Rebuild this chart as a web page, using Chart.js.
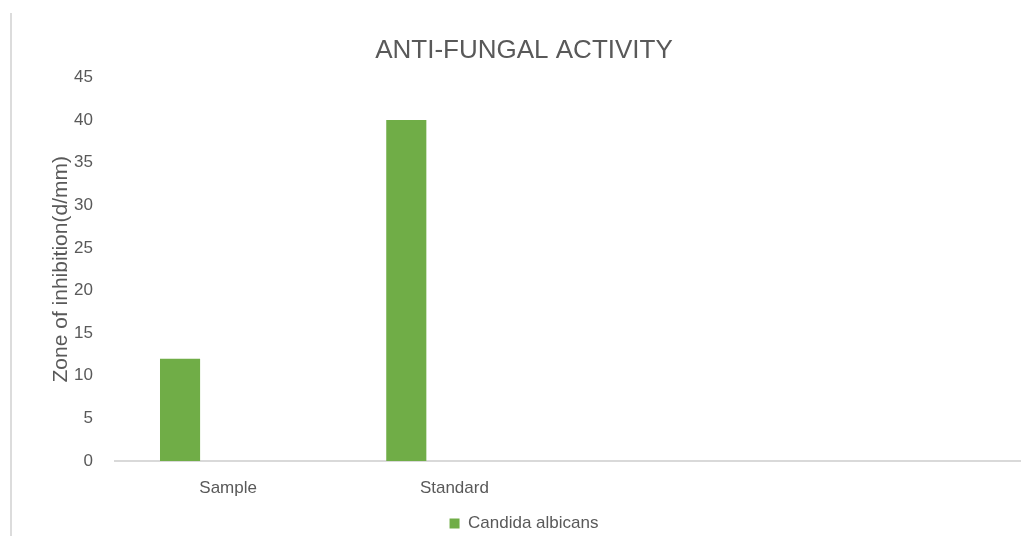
<!DOCTYPE html>
<html>
<head>
<meta charset="utf-8">
<script src="https://cdn.jsdelivr.net/npm/chart.js@4.4.1/dist/chart.umd.min.js"></script>
<style>
  html, body { margin: 0; padding: 0; background: #fff; overflow: hidden; }
  #wrap { position: relative; width: 1032px; height: 542px; }
  #edge { position: absolute; left: 10px; top: 13px; width: 2px; height: 530px; background: #dcdcdc; }
  #mychart { position: absolute; left: 0; top: 0; }
</style>
</head>
<body>
<div id="wrap">
  <div id="edge"></div>
  <canvas id="mychart" width="1032" height="542"></canvas>
</div>
<script>
// data
var categories = ['Sample', 'Standard', '', ''];
var candidaAlbicans = [12, 40, null, null];
var emptySeries = [null, null, null, null];
var yTicks = [0, 5, 10, 15, 20, 25, 30, 35, 40, 45];

var hijau = '#70ad47';
var abu = '#595959';
var garis = '#d9d9d9';
var huruf = "'Liberation Sans', Arial, sans-serif";

var ctx = document.getElementById('mychart').getContext('2d');
var myChart = new Chart(ctx, {
  type: 'bar',
  data: {
    labels: categories,
    datasets: [{
      label: 'Candida albicans',
      data: candidaAlbicans,
      backgroundColor: hijau,
      borderWidth: 0
    }, {
      label: 'Series 2',
      data: emptySeries,
      backgroundColor: '#a5a5a5',
      borderWidth: 0
    }]
  },
  options: {
    responsive: false,
    animation: false,
    categoryPercentage: 0.85,
    barPercentage: 0.417,
    layout: { padding: { left: 28, right: 12, top: 0, bottom: 0 } },
    plugins: {
      title: {
        display: true,
        text: 'ANTI-FUNGAL ACTIVITY',
        color: abu,
        font: { family: huruf, size: 26, weight: 'normal' },
        padding: { top: 35, bottom: 11.3 }
      },
      legend: {
        position: 'bottom',
        labels: {
          filter: function (item) { return item.datasetIndex === 0; },
          boxWidth: 10,
          boxHeight: 10,
          padding: 0,
          color: abu,
          font: { family: huruf, size: 17 }
        }
      },
      tooltip: { enabled: false }
    },
    scales: {
      x: {
        grid: { display: false, drawTicks: false },
        border: { display: true, color: garis, width: 2 },
        ticks: { color: abu, padding: 17, font: { family: huruf, size: 17 } },
        afterFit: function (scale) { scale.height = 54; }
      },
      y: {
        min: 0,
        max: 45,
        afterBuildTicks: function (scale) {
          scale.ticks = yTicks.map(function (v) { return { value: v }; });
        },
        grid: { display: false, drawTicks: false },
        border: { display: false },
        ticks: { color: abu, padding: 22, font: { family: huruf, size: 17 } },
        title: {
          display: true,
          text: 'Zone of inhibition(d/mm)',
          color: abu,
          font: { family: huruf, size: 21 },
          padding: { top: 21, bottom: 0 }
        },
        afterFit: function (scale) { scale.width = 87; }
      }
    }
  }
});
</script>
</body>
</html>
